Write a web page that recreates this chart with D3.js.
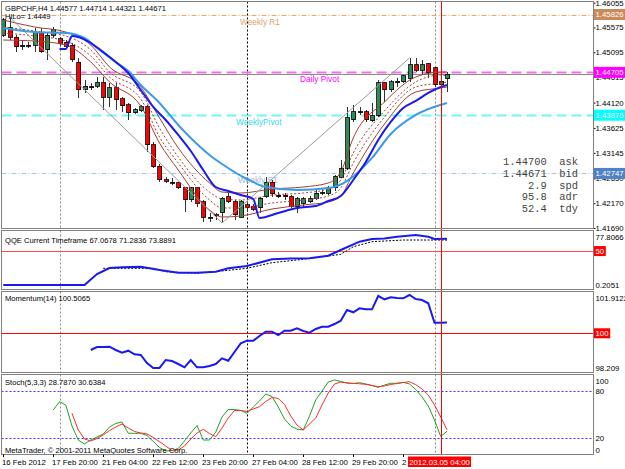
<!doctype html>
<html>
<head>
<meta charset="utf-8">
<title>GBPCHF,H4</title>
<script src="https://cdn.jsdelivr.net/npm/d3@7"></script>
<style>
  body { margin: 0; background: #fff; }
  svg { display: block; font-family: "Liberation Sans", Arial, sans-serif; }
</style>
</head>
<body>
<svg id="chart" width="625" height="469"></svg>
<script>
// ---- price bars (H4, 16 Feb 12:00 .. 5 Mar 08:00) ----
var opens  = [1.45429,1.45565,1.45390,1.45197,1.45235,1.45235,1.45468,1.45139,1.45429,1.45352,
              1.45293,1.45235,1.44906,1.44383,1.44422,1.44441,1.44500,1.44228,1.44403,1.44190,
              1.44074,1.43919,1.43957,1.44035,1.43299,1.42891,1.42620,1.42581,1.42562,1.42465,
              1.42233,1.42465,1.42194,1.41884,1.41942,1.41981,1.42291,1.42194,1.41903,1.42136,
              1.42116,1.42078,1.42291,1.42581,1.42329,1.42329,1.42291,1.42097,1.42174,1.42194,
              1.42271,1.42378,1.42368,1.42465,1.42678,1.42852,1.43783,1.43919,1.43938,1.43764,
              1.43860,1.44500,1.44364,1.44500,1.44519,1.44596,1.44848,1.44751,1.44868,1.44790,
              1.44461,1.44577];
var highs  = [1.45759,1.45778,1.45429,1.45332,1.45293,1.45565,1.45565,1.45468,1.45584,1.45390,
              1.45332,1.45274,1.44984,1.44558,1.44500,1.44616,1.44616,1.44500,1.44500,1.44228,
              1.44112,1.44015,1.44074,1.44074,1.43357,1.42930,1.42678,1.42659,1.42581,1.42484,
              1.42484,1.42484,1.42233,1.41981,1.41981,1.42291,1.42368,1.42233,1.42233,1.42194,
              1.42155,1.42291,1.42678,1.42620,1.42387,1.42368,1.42329,1.42291,1.42291,1.42310,
              1.42426,1.42445,1.42504,1.42717,1.43008,1.44035,1.44074,1.44035,1.43977,1.44112,
              1.44558,1.44519,1.44558,1.44596,1.44654,1.44984,1.44984,1.44945,1.44887,1.44809,
              1.44596,1.44714];
var lows   = [1.45390,1.45332,1.45100,1.45139,1.45177,1.45100,1.45080,1.44945,1.45371,1.45216,
              1.45177,1.44906,1.44209,1.44306,1.44364,1.44403,1.43977,1.44035,1.43977,1.43938,
              1.43783,1.43899,1.43938,1.43163,1.42852,1.42581,1.42562,1.42523,1.42445,1.42000,
              1.42194,1.42097,1.41806,1.41806,1.41845,1.41787,1.42174,1.41845,1.41884,1.42000,
              1.42019,1.41981,1.42271,1.42291,1.42271,1.42233,1.42078,1.41981,1.42078,1.42174,
              1.42233,1.42329,1.42329,1.42407,1.42659,1.42814,1.43744,1.43880,1.43744,1.43744,
              1.43841,1.44132,1.44325,1.44422,1.44500,1.44519,1.44712,1.44654,1.44596,1.44422,
              1.44422,1.44321];
var closes = [1.45720,1.45390,1.45197,1.45235,1.45226,1.45468,1.45100,1.45429,1.45545,1.45274,
              1.45216,1.44945,1.44364,1.44441,1.44412,1.44500,1.44228,1.44403,1.44170,1.44054,
              1.43919,1.43977,1.44035,1.43299,1.42872,1.42620,1.42600,1.42575,1.42465,1.42233,
              1.42465,1.42174,1.41903,1.41903,1.41935,1.42271,1.42194,1.41942,1.42194,1.42078,
              1.42058,1.42271,1.42581,1.42349,1.42291,1.42291,1.42097,1.42252,1.42252,1.42271,
              1.42368,1.42387,1.42465,1.42697,1.42852,1.43822,1.43938,1.43938,1.43783,1.43860,
              1.44500,1.44364,1.44519,1.44538,1.44635,1.44848,1.44751,1.44848,1.44693,1.44461,
              1.44538,1.44671];

var priceTicks = [1.46055,1.45575,1.45095,1.44615,1.44120,1.43625,1.43145,1.42650,1.42170,1.41690];
var levelNames  = ["Weekly R1","Daily Pivot","WeeklyPivot","Weekly S1"];
var levelValues = [1.45826,1.44705,1.43875,1.42747];
var bidPrice = 1.44671;

// moving averages [bar, price]
var maBlue = [[9,1.45158],[10,1.45158],[11,1.45410],[12,1.45390],[14,1.45274],[16,1.45100],[18,1.44906],
              [20,1.44693],[22,1.44364],[24,1.44035],[26,1.43783],[28,1.43492],[30,1.43182],[32,1.42814],
              [34,1.42484],[36,1.42407],[38,1.42329],[40,1.42252],[41,1.41884],[44,1.41981],[47,1.42078],
              [50,1.42116],[52,1.42213],[54,1.42310],[56,1.42620],[58,1.42969],[60,1.43396],[62,1.43744],
              [64,1.44015],[66,1.44151],[68,1.44306],[70,1.44422],[71,1.44461]];
var maLight = [[0,1.45565],[5,1.45487],[10,1.45468],[13,1.45371],[15,1.45177],[18,1.44906],[20,1.44732],
               [22,1.44461],[25,1.44112],[28,1.43686],[30,1.43434],[33,1.43105],[35,1.42930],[39,1.42639],
               [42,1.42484],[47,1.42426],[52,1.42465],[55,1.42600],[59,1.43047],[62,1.43511],[66,1.43880],
               [71,1.44112]];

// channel lines
var bandIdx   = [0,5,10,14,17,22,25,28,33,35,38,43,48,52,54,56,61,66,70,71];
var bandUpper = [1.45720,1.45584,1.45487,1.45235,1.44809,1.44422,1.43822,1.43241,1.42562,1.42387,
                 1.42368,1.42445,1.42484,1.42562,1.42775,1.43434,1.44132,1.44616,1.44712,1.44712];
var bandMidUp = [1.45584,1.45507,1.45410,1.45139,1.44712,1.44325,1.43628,1.43066,1.42387,1.42252,
                 1.42233,1.42329,1.42368,1.42445,1.42620,1.43144,1.43957,1.44519,1.44654,1.44635];
var bandMidLo = [1.45468,1.45410,1.45313,1.45022,1.44616,1.44190,1.43453,1.42949,1.42233,1.42078,
                 1.42078,1.42174,1.42233,1.42310,1.42465,1.42949,1.43841,1.44422,1.44500,1.44519];
var bandLower = [1.45332,1.45313,1.45235,1.44906,1.44519,1.44054,1.43338,1.42814,1.42039,1.41903,
                 1.41922,1.42058,1.42136,1.42194,1.42310,1.42755,1.43706,1.44325,1.44403,1.44422];

var zigzag = [[1,1.45778],[35,1.41787],[65,1.44984]];

// QQE
var qqeFast = [[0,3.0],[13,3.0],[15,18.2],[17,26.5],[19,27.5],[22,28.3],[25,23.8],[28,20.0],[31,20.0],
               [34,21.4],[36,26.1],[39,29.3],[43,38.6],[46,39.6],[49,40.0],[52,43.6],[54,51.5],[57,63.0],
               [59,66.7],[61,67.4],[63,69.9],[66,72.3],[68,69.9],[69,66.7],[71,67.07]];
var qqeSlow = [[16,26.1],[19,26.1],[24,26.1],[26,21.4],[31,19.2],[35,22.4],[39,26.1],[43,33.9],[48,38.6],
               [54,45.5],[56,56.0],[59,63.0],[64,65.3],[68,65.3],[71,65.3]];
var qqeTicks = [77.8066,0.2051];

// Momentum(14), bars 14..71
var momStart = 14;
var momentum = [99.206,99.348,99.348,99.363,99.206,99.078,99.173,99.002,98.969,98.589,
                98.352,98.352,98.731,98.684,98.541,98.385,98.731,98.385,98.385,98.446,
                98.541,98.812,98.698,99.111,99.524,99.648,99.648,99.871,100.075,100.075,
                99.918,100.122,100.122,100.236,100.108,100.027,100.203,100.312,100.312,100.440,
                100.597,101.105,100.996,101.186,101.138,101.138,101.770,101.613,101.708,101.675,
                101.661,101.817,101.627,101.580,101.423,100.502,100.502,100.5065];
var momTicks = [101.9122,98.209];

// Stochastic(5,3,3)
var stochKStart = 8;
var stochK = [55.7,66.2,62.0,35.4,17.7,12.7,17.7,21.5,25.3,34.2,38.6,40.5,26.2,26.2,26.2,23.4,
              15.8,8.2,3.8,4.4,7.0,16.5,26.6,36.1,17.7,17.7,27.8,46.8,56.3,56.3,55.1,51.5,
              59.5,67.1,75.9,72.8,59.5,44.3,35.4,31.6,30.4,48.1,68.4,79.7,91.1,93.7,91.8,89.9,
              89.2,90.3,88.6,86.7,84.4,87.3,89.5,89.5,90.8,88.6,81.6,72.2,60.8,43.0,22.2,28.787];
var stochDStart = 11;
var stochD = [51.5,30.4,19.0,16.5,19.6,24.1,29.7,34.2,38.0,32.9,28.5,26.6,25.3,20.9,15.6,10.1,
              4.4,5.1,10.1,19.0,26.6,31.3,25.9,21.9,32.9,45.6,55.1,55.1,53.8,57.0,59.9,66.5,
              71.5,70.3,62.7,48.1,36.7,30.4,38.0,45.6,62.0,77.2,88.6,91.1,89.9,89.5,88.9,88.2,
              86.7,85.2,86.1,88.0,89.2,90.5,91.5,87.7,82.3,74.7,62.0,46.8,30.638];
var stochTicks = [100,80,20,0];

var timeTicks = [[0,"16 Feb 2012"],[8,"17 Feb 20:00"],[16,"21 Feb 04:00"],[24,"22 Feb 12:00"],
                 [32,"23 Feb 20:00"],[40,"27 Feb 04:00"],[48,"28 Feb 12:00"],[56,"29 Feb 20:00"],
                 [64,"2 Mar 04:00"]];
var weekStarts = [9,39,69];
var currentBar = 70, currentLabel = "2012.03.05 04:00";

var infoValues = ["1.44700","1.44671","2.9","95.8","52.4"];
var infoLabels = ["ask","bid","spd","adr","tdy"];

// ---- layout ----
var svg = d3.select("#chart");
var X0 = 1.5, X1 = 593.5;
var panels = [
  {id: "main", top: 1.5, bottom: 228.5},
  {id: "qqe",  top: 230.5, bottom: 289.5},
  {id: "mom",  top: 291.5, bottom: 372.5},
  {id: "sto",  top: 374.5, bottom: 454.5}
];

var x  = d3.scaleLinear().domain([0, 71]).range([3.25, 447]);
var y  = d3.scaleLinear().domain([1.41690, 1.46055]).range([228, 2.7]);
var yQ = d3.scaleLinear().domain([0.2051, 77.8066]).range([287, 231]);
var yM = d3.scaleLinear().domain([98.209, 101.9122]).range([371, 293]);
var yS = d3.scaleLinear().domain([0, 100]).range([454, 375]);

var defs = svg.append("defs");
panels.forEach(function(p) {
  defs.append("clipPath").attr("id", "clip-" + p.id)
    .append("rect").attr("x", X0).attr("y", p.top).attr("width", X1 - X0).attr("height", p.bottom - p.top);
});

function panelG(id) {
  return svg.append("g").attr("clip-path", "url(#clip-" + id + ")");
}

// week separators in every panel
panels.forEach(function(p) {
  var g = panelG(p.id);
  weekStarts.forEach(function(b, k) {
    var xx = Math.round(x(b)) + 0.5;
    g.append("line").attr("x1", xx).attr("x2", xx).attr("y1", p.top).attr("y2", p.bottom)
      .attr("stroke", k === 1 ? "#000" : "#888").attr("stroke-dasharray", "2,2");
  });
});

// ---- main panel ----
var mg = panelG("main");
var levelStroke = ["#F4A460", "#EE72EE", "#6FF7F7", "#A9C3E6"];
var levelText   = ["#D9A46F", "#FF00FF", "#38D8F0", "#9DB8DC"];
var levelDash   = ["5,2,1,2", "10,5", "10,5", "5,2,1,2"];
var levelWidth  = [1, 2, 2, 1];
var levelTextX  = [240, 300, 236, 238];

levelValues.forEach(function(v, k) {
  var yy = Math.round(y(v)) + 0.5;
  mg.append("line").attr("x1", X0).attr("x2", X1).attr("y1", yy).attr("y2", yy)
    .attr("stroke", levelStroke[k]).attr("stroke-width", levelWidth[k])
    .attr("stroke-dasharray", levelDash[k]);
  mg.append("text").attr("x", levelTextX[k]).attr("y", yy + 9)
    .attr("font-size", "8.3px").attr("fill", levelText[k]).text(levelNames[k]);
});
mg.append("line").attr("x1", X0).attr("x2", X1)
  .attr("y1", Math.round(y(bidPrice)) + 0.5).attr("y2", Math.round(y(bidPrice)) + 0.5)
  .attr("stroke", "#8c8c8c");

// candles
var bars = d3.range(opens.length).map(function(i) {
  return {i: i, o: opens[i], h: highs[i], l: lows[i], c: closes[i]};
});
var cg = mg.append("g").attr("shape-rendering", "crispEdges");
cg.selectAll("line").data(bars).join("line")
  .attr("x1", function(d) { return Math.round(x(d.i)) + 0.5; })
  .attr("x2", function(d) { return Math.round(x(d.i)) + 0.5; })
  .attr("y1", function(d) { return y(d.h); })
  .attr("y2", function(d) { return y(d.l); })
  .attr("stroke", "#333");
cg.selectAll("rect").data(bars).join("rect")
  .attr("x", function(d) { return Math.round(x(d.i)) - 1.5; })
  .attr("width", 4)
  .attr("y", function(d) { return y(Math.max(d.o, d.c)); })
  .attr("height", function(d) { return Math.max(1, Math.abs(y(d.o) - y(d.c))); })
  .attr("fill", function(d) { return d.c >= d.o ? "#2E8B57" : "#FF0000"; })
  .attr("stroke", "#000").attr("stroke-width", 0.8);

// channel
var bandLine = d3.line().x(function(d) { return x(d[0]); }).y(function(d) { return y(d[1]); })
  .curve(d3.curveMonotoneX);
[[bandUpper, null], [bandMidUp, "2,2"], [bandMidLo, "2,2"], [bandLower, null]].forEach(function(b) {
  mg.append("path").attr("d", bandLine(bandIdx.map(function(i, k) { return [i, b[0][k]]; })))
    .attr("fill", "none").attr("stroke", "#A0412D").attr("stroke-width", 1)
    .attr("stroke-dasharray", b[1]);
});

mg.append("path").attr("d", d3.line().x(function(d) { return x(d[0]); }).y(function(d) { return y(d[1]); })(zigzag))
  .attr("fill", "none").attr("stroke", "#9a9a9a");

mg.append("path").attr("d", bandLine(maLight)).attr("fill", "none")
  .attr("stroke", "#3C9BE8").attr("stroke-width", 2);
mg.append("path").attr("d", bandLine(maBlue)).attr("fill", "none")
  .attr("stroke", "#1A1AF0").attr("stroke-width", 2);

// header texts
svg.append("text").attr("x", 5).attr("y", 10.5).attr("font-size", "7.6px").attr("fill", "#000")
  .text("GBPCHF,H4  1.44577 1.44714 1.44321 1.44671");
svg.append("text").attr("x", 5).attr("y", 19).attr("font-size", "7.6px").attr("fill", "#000")
  .text("HiLo= 1.4449");

// info block
var ig = svg.append("g").attr("font-family", "'Liberation Mono', 'Courier New', monospace")
  .attr("font-size", "10.4px").attr("fill", "#444");
infoValues.forEach(function(v, k) {
  var yy = 165.3 + k * 11.6;
  ig.append("text").attr("x", 546.7).attr("y", yy).attr("text-anchor", "end").text(v);
  ig.append("text").attr("x", 559.3).attr("y", yy).text(infoLabels[k]);
});

// price axis
var ax = svg.append("g").attr("transform", "translate(" + X1 + ",0)")
  .call(d3.axisRight(y).tickValues(priceTicks).tickSize(2).tickPadding(0)
    .tickFormat(d3.format(".5f")));
ax.select(".domain").remove();
ax.selectAll("text").attr("font-size", "7.8px").attr("font-family", "'Liberation Sans', Arial, sans-serif").attr("fill", "#000");

var tagBg = ["#C98A5A", "#FF00FF", "#00FFFF", "#4E82C4"];
levelValues.forEach(function(v, k) {
  var yy = y(v);
  svg.append("rect").attr("x", 594).attr("y", yy - 5.5).attr("width", 31).attr("height", 11)
    .attr("fill", tagBg[k]);
  svg.append("text").attr("x", 595.5).attr("y", yy + 2.8).attr("font-size", "7.8px")
    .attr("fill", "#fff").text(d3.format(".5f")(v));
});

// ---- QQE panel ----
var qg = panelG("qqe");
var y50 = Math.round(yQ(50)) + 0.5;
qg.append("line").attr("x1", X0).attr("x2", X1).attr("y1", y50).attr("y2", y50).attr("stroke", "#FF4A4A");
var qLine = d3.line().x(function(d) { return x(d[0]); }).y(function(d) { return yQ(d[1]); });
qg.append("path").attr("d", qLine(qqeSlow)).attr("fill", "none").attr("stroke", "#000")
  .attr("stroke-dasharray", "2,1.5");
qg.append("path").attr("d", qLine(qqeFast)).attr("fill", "none").attr("stroke", "#1A1AF0").attr("stroke-width", 2);
svg.append("text").attr("x", 5).attr("y", 242.5).attr("font-size", "7.6px").attr("fill", "#000")
  .text("QQE Current Timeframe 67.0678 71.2836 73.8891");

// ---- Momentum panel ----
var mog = panelG("mom");
var y100 = Math.round(yM(100)) + 0.5;
mog.append("line").attr("x1", X0).attr("x2", X1).attr("y1", y100).attr("y2", y100).attr("stroke", "#FF0000");
mog.append("path")
  .attr("d", d3.line().x(function(d, k) { return x(momStart + k); }).y(function(d) { return yM(d); })(momentum))
  .attr("fill", "none").attr("stroke", "#1A1AF0").attr("stroke-width", 2);
svg.append("text").attr("x", 5).attr("y", 300.5).attr("font-size", "7.6px").attr("fill", "#000")
  .text("Momentum(14) 100.5065");

// ---- Stochastic panel ----
var sg = panelG("sto");
[80, 20].forEach(function(v) {
  var yy = Math.round(yS(v)) + 0.5;
  sg.append("line").attr("x1", X0).attr("x2", X1).attr("y1", yy).attr("y2", yy)
    .attr("stroke", "#3535FF").attr("stroke-dasharray", "2,2");
});
sg.append("path")
  .attr("d", d3.line().x(function(d, k) { return x(stochKStart + k); }).y(function(d) { return yS(d); })(stochK))
  .attr("fill", "none").attr("stroke", "#1FA31F");
sg.append("path")
  .attr("d", d3.line().x(function(d, k) { return x(stochDStart + k); }).y(function(d) { return yS(d); })(stochD))
  .attr("fill", "none").attr("stroke", "#FF2A2A");
svg.append("text").attr("x", 5).attr("y", 385).attr("font-size", "7.6px").attr("fill", "#000")
  .text("Stoch(5,3,3) 28.7870 30.6384");
svg.append("text").attr("x", 5).attr("y", 452.5).attr("font-size", "7.6px").attr("fill", "#000")
  .text("MetaTrader, \u00A9 2001-2011 MetaQuotes Software Corp.");

// current bar line
var xc = Math.round(x(currentBar)) + 0.5;
svg.append("line").attr("x1", xc).attr("x2", xc).attr("y1", 1.5).attr("y2", 454.5).attr("stroke", "#FF0000");

// frames
panels.forEach(function(p) {
  svg.append("rect").attr("x", X0).attr("y", p.top).attr("width", X1 - X0).attr("height", p.bottom - p.top)
    .attr("fill", "none").attr("stroke", "#808080");
});

// sub-panel scales
function sideLabels(ticks, scale, p) {
  ticks.forEach(function(v) {
    var yy = Math.min(Math.max(scale(v), p.top + 6.5), p.bottom - 4);
    svg.append("text").attr("x", 595.5).attr("y", yy + 2.8).attr("font-size", "7.8px").attr("fill", "#000").text(v);
  });
}
sideLabels(qqeTicks, yQ, panels[1]);
sideLabels(momTicks, yM, panels[2]);
sideLabels(stochTicks, yS, panels[3]);

function redTag(v, yy) {
  svg.append("rect").attr("x", 594).attr("y", yy - 5).attr("width", v.length * 4.4 + 3).attr("height", 10)
    .attr("fill", "#FF0000");
  svg.append("text").attr("x", 595.5).attr("y", yy + 2.8).attr("font-size", "7.8px").attr("fill", "#fff").text(v);
}
redTag("50", yQ(50));
redTag("100", yM(100));

// time axis
timeTicks.forEach(function(t) {
  var xx = Math.round(x(t[0])) + 0.5;
  svg.append("line").attr("x1", xx).attr("x2", xx).attr("y1", 454.5).attr("y2", 457).attr("stroke", "#000");
  svg.append("text").attr("x", xx - 1.5).attr("y", 464.5).attr("font-size", "7.8px").attr("fill", "#000").text(t[1]);
});
svg.append("rect").attr("x", xc - 33.5).attr("y", 456.5).attr("width", 63).attr("height", 10.5).attr("fill", "#FF0000");
svg.append("text").attr("x", xc - 2).attr("y", 464.5).attr("text-anchor", "middle").attr("font-size", "7.8px")
  .attr("fill", "#fff").text(currentLabel);
</script>
</body>
</html>
